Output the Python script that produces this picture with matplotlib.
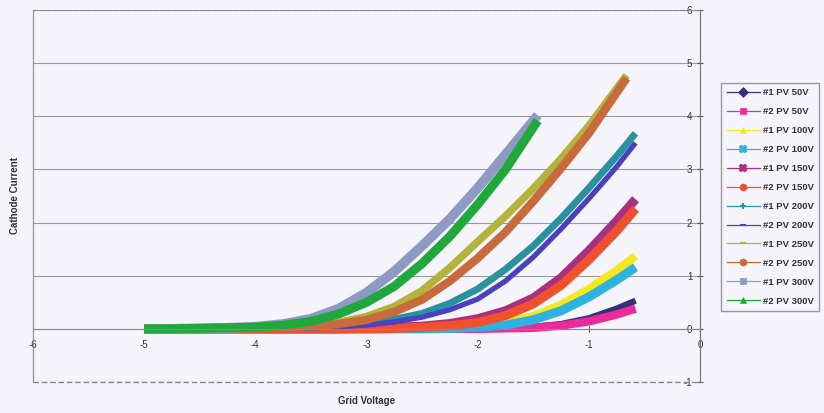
import matplotlib
matplotlib.use('Agg')
import matplotlib.pyplot as plt
from matplotlib.lines import Line2D

# grid voltage points (V) for each group of curves
vg_low = [-5.0, -4.75, -4.5, -4.25, -4.0, -3.75, -3.5, -3.25, -3.0, -2.75,
          -2.5, -2.25, -2.0, -1.75, -1.5, -1.25, -1.0, -0.75, -0.58]
vg_250 = [-5.0, -4.75, -4.5, -4.25, -4.0, -3.75, -3.5, -3.25, -3.0, -2.75,
          -2.5, -2.25, -2.0, -1.75, -1.5, -1.25, -1.0, -0.66]
vg_300 = [-5.0, -4.75, -4.5, -4.25, -4.0, -3.75, -3.5, -3.25, -3.0, -2.75,
          -2.5, -2.25, -2.0, -1.75, -1.46]

# cathode current
ik_1_50 = [0, 0, 0, 0, 0, 0, 0, 0, 0, 0, 0, 0, 0.0, 0.01, 0.04, 0.09, 0.2, 0.38, 0.53]
ik_2_50 = [0, 0, 0, 0, 0, 0, 0, 0, 0, 0, 0, 0, 0.0, 0.01, 0.02, 0.06, 0.14, 0.27, 0.38]
ik_1_100 = [0, 0, 0, 0, 0, 0, 0, 0, 0, 0, 0.01, 0.02, 0.05, 0.11, 0.24, 0.45, 0.75, 1.1, 1.37]
ik_2_100 = [0, 0, 0, 0, 0, 0, 0, 0, 0, 0, 0.0, 0.01, 0.03, 0.07, 0.17, 0.34, 0.6, 0.92, 1.16]
ik_1_150 = [0, 0, 0, 0, 0, 0, 0, 0, 0.01, 0.03, 0.05, 0.1, 0.19, 0.34, 0.58, 0.96, 1.47, 2.03, 2.44]
ik_2_150 = [0, 0, 0, 0, 0, 0, 0, 0, 0.0, 0.01, 0.03, 0.06, 0.12, 0.25, 0.47, 0.82, 1.3, 1.84, 2.26]
ik_1_200 = [0, 0, 0, 0, 0.01, 0.02, 0.03, 0.06, 0.1, 0.18, 0.29, 0.48, 0.75, 1.12, 1.56, 2.08, 2.65, 3.25, 3.68]
ik_2_200 = [0, 0, 0, 0, 0.0, 0.01, 0.02, 0.04, 0.07, 0.13, 0.22, 0.36, 0.56, 0.9, 1.35, 1.88, 2.45, 3.05, 3.5]
ik_1_250 = [0, 0, 0, 0.01, 0.02, 0.04, 0.06, 0.12, 0.23, 0.42, 0.72, 1.15, 1.64, 2.12, 2.64, 3.2, 3.82, 4.77]
ik_2_250 = [0, 0, 0, 0.0, 0.01, 0.03, 0.05, 0.09, 0.17, 0.32, 0.55, 0.9, 1.33, 1.82, 2.4, 3.02, 3.68, 4.72]
ik_1_300 = [0, 0, 0.01, 0.02, 0.04, 0.09, 0.19, 0.38, 0.68, 1.08, 1.56, 2.07, 2.65, 3.28, 4.02]
ik_2_300 = [0, 0, 0.01, 0.02, 0.03, 0.07, 0.14, 0.28, 0.5, 0.8, 1.23, 1.74, 2.34, 3.0, 3.92]

labels = ['#1 PV 50V', '#2 PV 50V', '#1 PV 100V', '#2 PV 100V', '#1 PV 150V',
          '#2 PV 150V', '#1 PV 200V', '#2 PV 200V', '#1 PV 250V', '#2 PV 250V',
          '#1 PV 300V', '#2 PV 300V']
xs = [vg_low] * 8 + [vg_250, vg_250, vg_300, vg_300]
ys = [ik_1_50, ik_2_50, ik_1_100, ik_2_100, ik_1_150, ik_2_150,
      ik_1_200, ik_2_200, ik_1_250, ik_2_250, ik_1_300, ik_2_300]
colors = ['#35307a', '#ec2a9c', '#f4e81e', '#2eb2e2', '#a8307e', '#f0502e',
          '#2a929e', '#4a40c0', '#b4b43a', '#c86a3c', '#8e9ac4', '#20a83c']
markers = ['D', 's', '^', 'X', 'X', 'o', '+', '_', '_', 'o', 's', '^']
widths = [4.5, 6, 6, 6.5, 6.5, 6.5, 5, 3.8, 5.5, 6, 7, 6.5]

bg = '#f4f4fa'
txt = '#333333'
plt.rcParams['font.family'] = ['Liberation Sans', 'DejaVu Sans']
plt.rcParams['axes.unicode_minus'] = False

fig = plt.figure(figsize=(8.24, 4.13), dpi=100, facecolor=bg)
ax = fig.add_axes([33 / 824, 1 - 382 / 413, 667 / 824, 372 / 413])
ax.set_facecolor(bg)

for x, y, c, w in zip(xs, ys, colors, widths):
    ax.plot(x, y, color=c, lw=w, solid_capstyle='butt', solid_joinstyle='round')

ax.set_xlim(-6, 0)
ax.set_ylim(-1, 6)
ax.set_xticks(range(-6, 1))
ax.set_yticks(range(-1, 7))
ax.yaxis.grid(True, color='#9a9a9a', lw=0.8)
ax.set_axisbelow(True)

# axes cross at the origin
ax.spines['bottom'].set_position(('data', 0))
ax.spines['bottom'].set_color('#8a8a8a')
ax.spines['bottom'].set_linewidth(0.8)
ax.spines['right'].set_color('#7a7a7a')
ax.spines['right'].set_linewidth(0.9)
ax.spines['left'].set_color('#8a9a80')
ax.spines['left'].set_linewidth(0.9)
ax.spines['top'].set_color('#8a8a8a')
ax.spines['top'].set_linestyle((0, (4, 2)))
ax.axhline(-1, color='#8a8a8a', lw=1.0, ls=(0, (4, 2)), clip_on=False)

ax.yaxis.tick_right()
ax.tick_params(axis='y', direction='inout', length=5, pad=-8, labelsize=7,
               colors='#555555', labelcolor=txt)
plt.setp(ax.get_yticklabels(), ha='right')
ax.tick_params(axis='x', direction='inout', length=4, pad=6, labelsize=7,
               colors='#555555', labelcolor=txt)

ax.set_xlabel('Grid Voltage', fontsize=7, fontweight='bold', color=txt)
ax.xaxis.set_label_coords(0.5, -0.038)
ax.set_ylabel('Cathode Current', fontsize=7, fontweight='bold', color=txt)
ax.yaxis.set_label_position('left')
ax.yaxis.set_label_coords(-0.02, 0.5)

handles = [Line2D([], [], color=c, lw=0.9, marker=m, markersize=5,
                  markeredgewidth=1.5 if m in ('+', '_', 'X') else 0.5,
                  markeredgecolor=c)
           for c, m in zip(colors, markers)]
leg = fig.legend(handles, labels, loc='center left',
                 bbox_to_anchor=(721 / 824, 1 - 197 / 413), fontsize=6.8,
                 frameon=True, fancybox=False, edgecolor='#999999',
                 facecolor=bg, framealpha=1, labelspacing=1.05,
                 handlelength=3.5, handletextpad=0.3, borderpad=0.6,
                 borderaxespad=0)
for t in leg.get_texts():
    t.set_fontweight('bold')
    t.set_color(txt)

fig.savefig('out.png', dpi=100, facecolor=bg)
